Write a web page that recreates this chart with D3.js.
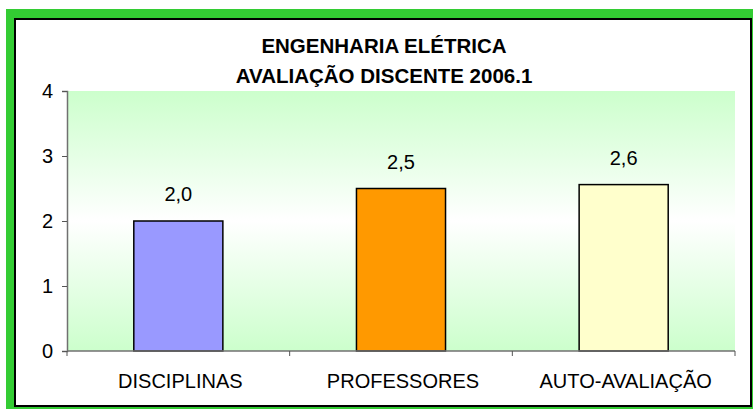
<!DOCTYPE html>
<html>
<head>
<meta charset="utf-8">
<script src="https://cdn.jsdelivr.net/npm/d3@7"></script>
<style>
  body { margin: 0; background: #fff; }
  svg { display: block; font-family: "Liberation Sans", Arial, sans-serif; }
</style>
</head>
<body>
<svg id="chart"></svg>
<script>
const width = 753;
const height = 409;

// data
const titleLines = ['ENGENHARIA ELÉTRICA', 'AVALIAÇÃO DISCENTE 2006.1'];
const categories = ['DISCIPLINAS', 'PROFESSORES', 'AUTO-AVALIAÇÃO'];
const values = [2.0, 2.5, 2.56];
const barColors = ['#9999FF', '#FF9900', '#FFFFCC'];
const yTicks = [0, 1, 2, 3, 4];

const plot = { left: 67, right: 735, top: 91, bottom: 351 };

const svg = d3.select('#chart')
  .attr('width', width)
  .attr('height', height);

// green frame + black border
svg.append('rect')
  .attr('x', 6).attr('y', 9)
  .attr('width', 760).attr('height', 410)
  .attr('fill', '#33CC33');
svg.append('rect')
  .attr('x', 15).attr('y', 19)
  .attr('width', 736).attr('height', 387)
  .attr('fill', '#fff')
  .attr('stroke', '#000')
  .attr('stroke-width', 2);

// plot background gradient
const grad = svg.append('defs').append('linearGradient')
  .attr('id', 'bg')
  .attr('x1', 0).attr('y1', 0).attr('x2', 0).attr('y2', 1);
grad.append('stop').attr('offset', '0%').attr('stop-color', '#CCFFCC');
grad.append('stop').attr('offset', '50%').attr('stop-color', '#FFFFFF');
grad.append('stop').attr('offset', '100%').attr('stop-color', '#CCFFCC');

svg.append('rect')
  .attr('x', plot.left).attr('y', plot.top)
  .attr('width', plot.right - plot.left)
  .attr('height', plot.bottom - plot.top)
  .attr('fill', 'url(#bg)');

const x = d3.scaleBand()
  .domain(categories)
  .range([plot.left, plot.right])
  .paddingInner(0.6)
  .paddingOuter(0.3);

const y = d3.scaleLinear()
  .domain([0, 4])
  .range([plot.bottom, plot.top]);

// bars
svg.selectAll('rect.bar')
  .data(categories)
  .enter()
  .append('rect')
  .attr('class', 'bar')
  .attr('x', d => x(d))
  .attr('y', (d, i) => y(values[i]))
  .attr('width', x.bandwidth())
  .attr('height', (d, i) => y(0) - y(values[i]))
  .attr('fill', (d, i) => barColors[i])
  .attr('stroke', '#000')
  .attr('stroke-width', 1.5);

// value labels
const fmt = v => d3.format('.1f')(v).replace('.', ',');
svg.selectAll('text.val')
  .data(categories)
  .enter()
  .append('text')
  .attr('class', 'val')
  .attr('x', d => x(d) + x.bandwidth() / 2)
  .attr('y', (d, i) => y(values[i]) - 20)
  .attr('text-anchor', 'middle')
  .attr('font-size', 20)
  .text((d, i) => fmt(values[i]));

// y axis
const yAxis = svg.append('g')
  .attr('transform', `translate(${plot.left},0)`)
  .call(d3.axisLeft(y).tickValues(yTicks).tickSize(5).tickPadding(9).tickFormat(d3.format('d')));
yAxis.select('.domain').attr('stroke', '#707070').attr('stroke-width', 1.5);
yAxis.selectAll('.tick line').attr('stroke', '#555');
yAxis.selectAll('.tick text')
  .attr('font-size', 20)
  .attr('fill', '#000')
  .attr('font-family', '"Liberation Sans", Arial, sans-serif');

// x axis (ticks at category boundaries)
const step = x.step();
const xBoundaries = d3.range(categories.length + 1).map(i => plot.left + i * step);
const xAxisG = svg.append('g');
xAxisG.append('line')
  .attr('x1', plot.left).attr('x2', plot.right)
  .attr('y1', plot.bottom).attr('y2', plot.bottom)
  .attr('stroke', '#707070').attr('stroke-width', 1.5);
xAxisG.selectAll('line.tk')
  .data(xBoundaries)
  .enter()
  .append('line')
  .attr('class', 'tk')
  .attr('x1', d => d).attr('x2', d => d)
  .attr('y1', plot.bottom).attr('y2', plot.bottom + 5)
  .attr('stroke', '#555');
xAxisG.selectAll('text')
  .data(categories)
  .enter()
  .append('text')
  .attr('x', d => x(d) + x.bandwidth() / 2 + 2)
  .attr('y', 388)
  .attr('text-anchor', 'middle')
  .attr('font-size', 20)
  .text(d => d);

// title
svg.selectAll('text.title')
  .data(titleLines)
  .enter()
  .append('text')
  .attr('class', 'title')
  .attr('x', 384)
  .attr('y', (d, i) => 53 + i * 30)
  .attr('text-anchor', 'middle')
  .attr('font-size', 20.5)
  .attr('font-weight', 'bold')
  .text(d => d);
</script>
</body>
</html>
